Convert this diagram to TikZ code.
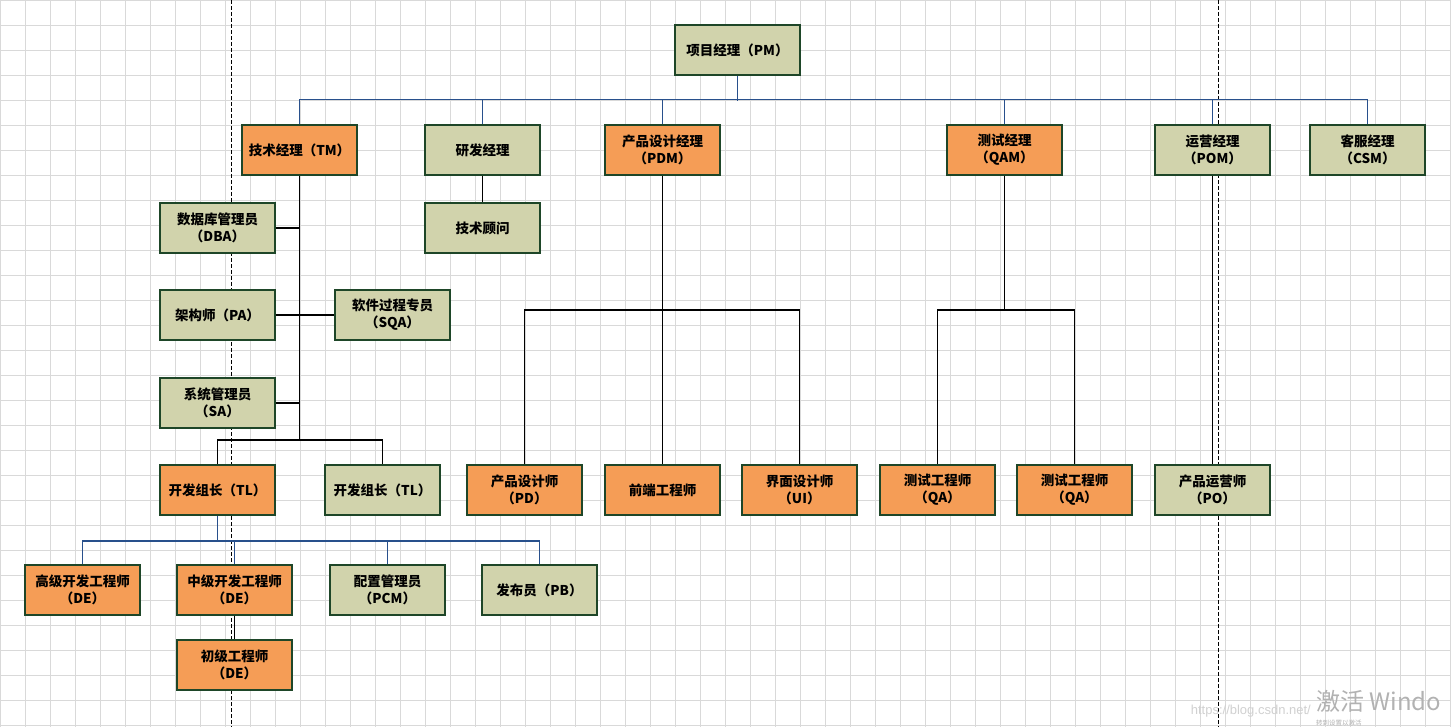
\documentclass[tikz,border=0pt]{standalone}
\usepackage{fontspec}
\newfontfamily\cjk{Noto Sans CJK SC}
\newfontfamily\wsans{Liberation Sans}
\definecolor{orgfill}{RGB}{245,157,86}
\definecolor{grnfill}{RGB}{209,211,172}
\definecolor{boxline}{RGB}{30,70,40}
\definecolor{busblue}{RGB}{40,80,140}
\definecolor{gridgray}{RGB}{217,217,217}
\tikzset{
  box/.style={draw=boxline, line width=1.1pt, minimum width=115pt, minimum height=50pt,
    inner sep=0pt, align=center, font=\cjk\bfseries\fontsize{13.5}{17}\selectfont, text=black},
  og/.style={box, fill=orgfill},
  gr/.style={box, fill=grnfill},
  ln/.style={draw=black, line width=1.1pt},
  bl/.style={draw=busblue, line width=1.1pt},
  guide/.style={draw=black, line width=0.9pt, dash pattern=on 4pt off 2pt},
  wm/.style={text=black!30, inner sep=0pt, anchor=base west}
}
\begin{document}
\begin{tikzpicture}[x=1pt,y=-1pt]
\useasboundingbox (0,0) rectangle (1451,727);
\fill[white] (0,0) rectangle (1451,727);
\begin{scope}
\clip (0,0) rectangle (1451,727);
% grid
\foreach \i in {0,25,...,1450} \draw[gridgray, line width=0.9pt] (\i,0) -- (\i,727);
\foreach \j in {0,25,...,725} \draw[gridgray, line width=0.9pt] (0,\j) -- (1451,\j);
% guide lines
\coordinate (g1t) at (231,0); \coordinate (g1b) at (231,727);
\coordinate (g2t) at (1218,0); \coordinate (g2b) at (1218,727);
\draw[guide] (g1t) -- (g1b);
\draw[guide] (g2t) -- (g2b);
\end{scope}
% watermark
\node[wm, anchor=base east, font=\wsans\fontsize{13}{13}\selectfont, text=black!18] (url) at (1311,714) {https://blog.csdn.net/};
\node[wm, font=\cjk\fontsize{24}{24}\selectfont] (wm1) at (1316,710) {激活 Windo};
\node[wm, font=\cjk\fontsize{6.5}{6.5}\selectfont] (wm2) at (1316,725) {转到设置以激活};

% nodes
\node[gr] (pm) at (737.5,50) [minimum width=125pt] {项目经理（PM）};
\node[og] (tm) at (299.5,150) {技术经理（TM）};
\node[gr] (rd) at (482.5,150) {研发经理};
\node[og] (pdm) at (662.5,150) {产品设计经理\\（PDM）};
\node[og] (qam) at (1004.5,150) {测试经理\\（QAM）};
\node[gr] (pom) at (1212.5,150) {运营经理\\（POM）};
\node[gr] (csm) at (1367.5,150) {客服经理\\（CSM）};
\node[gr] (gw) at (482.5,228) {技术顾问};
\node[gr] (dba) at (217.5,228) {数据库管理员\\（DBA）};
\node[gr] (pa) at (217.5,315) {架构师（PA）};
\node[gr] (sqa) at (392.5,315) {软件过程专员\\（SQA）};
\node[gr] (sa) at (217.5,403) {系统管理员\\（SA）};
\node[og] (tl1) at (217.5,490) {开发组长（TL）};
\node[gr] (tl2) at (382.5,490) {开发组长（TL）};
\node[og] (pd) at (524.5,490) {产品设计师\\（PD）};
\node[og] (fe) at (662.5,490) {前端工程师};
\node[og] (ui) at (799.5,490) {界面设计师\\（UI）};
\node[og] (qa1) at (937.5,490) {测试工程师\\（QA）};
\node[og] (qa2) at (1074.5,490) {测试工程师\\（QA）};
\node[gr] (po) at (1212.5,490) {产品运营师\\（PO）};
\node[og] (de1) at (82.5,590) {高级开发工程师\\（DE）};
\node[og] (de2) at (234.5,590) {中级开发工程师\\（DE）};
\node[gr] (pcm) at (387.5,590) {配置管理员\\（PCM）};
\node[gr] (pb) at (539.5,590) {发布员（PB）};
\node[og] (jr) at (234.5,665) {初级工程师\\（DE）};

% top blue bus
\draw[bl] (pm.south) -- ++(0,25);
\draw[bl] (tm.north) -- ++(0,-25) -| (csm.north);
\draw[bl] (rd.north) -- ++(0,-25);
\draw[bl] (pdm.north) -- ++(0,-25);
\draw[bl] (qam.north) -- ++(0,-25);
\draw[bl] (pom.north) -- ++(0,-25);

% TM tree
\coordinate (tmj) at (299.5,440);
\draw[ln] (tm.south) -- (tmj);
\draw[ln] (dba.east) -- (dba.east -| tm.south);
\draw[ln] (pa.east) -- (sqa.west);
\draw[ln] (sa.east) -- (sa.east -| tm.south);
\draw[ln] (tl1.north) |- (tmj) -| (tl2.north);
\draw[ln] (rd.south) -- (gw.north);

% PDM tree
\coordinate (pdj) at (662.5,310);
\draw[ln] (pdm.south) -- (fe.north);
\draw[ln] (pd.north) |- (pdj) -| (ui.north);

% QAM tree
\coordinate (qaj) at (1004.5,310);
\draw[ln] (qam.south) -- (qaj);
\draw[ln] (qa1.north) |- (qaj) -| (qa2.north);

% POM
\draw[ln] (pom.south) -- (po.north);

% TL bottom bus
\coordinate (tlj) at (217.5,541);
\draw[bl] (tl1.south) -- (tlj);
\draw[bl] (de1.north) |- (tlj) -| (pb.north);
\draw[bl] (de2.north) -- ++(0,-24);
\draw[bl] (pcm.north) -- ++(0,-24);
\draw[ln] (de2.south) -- (jr.north);
\end{tikzpicture}
\end{document}
